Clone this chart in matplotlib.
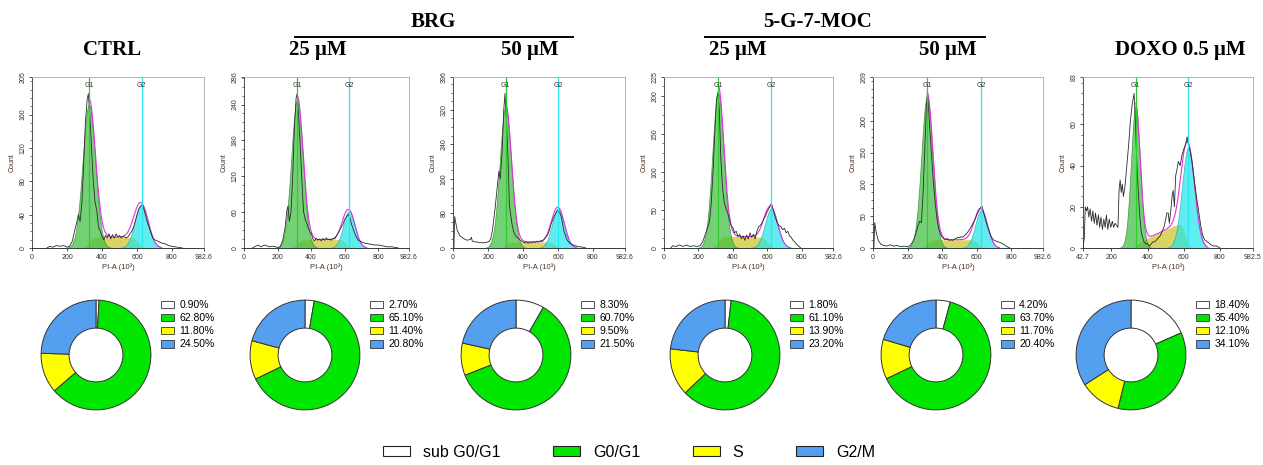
import math
import numpy as np
import matplotlib
matplotlib.use("Agg")
import matplotlib.pyplot as plt
from matplotlib.patches import Patch
from matplotlib.lines import Line2D
from matplotlib.ticker import AutoMinorLocator

plt.rcParams["font.family"] = ["Liberation Sans", "DejaVu Sans"]

W, H = 1263, 465

# ---- donut data (% of cells) ----
phases = ["sub G0/G1", "G0/G1", "S", "G2/M"]
phase_colors = ["#ffffff", "#00e600", "#ffff00", "#559ff0"]
sub_g1 = [0.90, 2.70, 8.30, 1.80, 4.20, 18.40]
g0_g1 = [62.80, 65.10, 60.70, 61.10, 63.70, 35.40]
s_phase = [11.80, 11.40, 9.50, 13.90, 11.70, 12.10]
g2_m = [24.50, 20.80, 21.50, 23.20, 20.40, 34.10]

# ---- histogram axes ----
x_min = [0, 0, 0, 0, 0, 42.7]
x_max = [982.6, 982.6, 982.6, 982.6, 982.6, 982.5]
y_max = [205, 286, 396, 225, 269, 83]
y_ticks = [
    [0, 40, 80, 120, 160, 205],
    [0, 60, 120, 180, 240, 286],
    [0, 80, 160, 240, 320, 396],
    [0, 50, 100, 150, 200, 225],
    [0, 50, 100, 150, 200, 269],
    [0, 20, 40, 60, 83],
]

# ---- fitted model components ----
g1_pos = [325, 316, 300, 314, 312, 333]
g1_height = [172, 247, 327, 205, 238, 69]
g1_width = [36, 35, 33, 33, 33, 25]
g2_pos = [626, 626, 601, 624, 626, 625]
g2_height = [52, 62, 92, 52, 60, 49]
g2_width = [38, 35, 35, 37, 35, 35]
s_start = [13, 14, 14, 16, 13, 2]
s_end = [13, 14, 14, 14, 13, 14]

# ---- raw histogram traces ----
ctrl_x = [85, 100, 120, 140, 160, 180, 200, 215, 230, 245, 255, 265, 275, 285, 295, 305, 315, 322, 330,
          340, 350, 360, 370, 380, 390, 400, 410, 420, 430, 440, 450, 460, 470, 480, 490, 500, 510, 520,
          530, 540, 550, 560, 570, 580, 590, 600, 610, 620, 630, 640, 650, 660, 670, 680, 690, 700, 720,
          740, 760, 780, 800, 830, 860]
ctrl_y = [0, 2, 1, 3, 2, 3, 1, 2, 8, 22, 30, 40, 32, 55, 100, 150, 178, 185, 160,
          120, 80, 55, 45, 25, 20, 14, 10, 15, 12, 17, 11, 16, 12, 17, 13, 15, 12, 14,
          13, 12, 14, 17, 20, 25, 32, 40, 47, 50, 52, 46, 38, 30, 24, 18, 12, 10, 8,
          6, 5, 3, 2, 1, 0]

brg25_x = [50, 70, 85, 100, 125, 150, 175, 200, 215, 230, 245, 255, 262, 270, 280, 290, 300, 310, 316,
           325, 335, 345, 355, 365, 375, 385, 395, 400, 410, 420, 430, 440, 450, 460, 470, 480, 490,
           500, 510, 520, 530, 540, 550, 560, 570, 580, 590, 600, 610, 620, 630, 640, 650, 660, 670,
           680, 690, 700, 720, 740, 760, 780, 800, 820, 850, 880, 920]
brg25_y = [0, 3, 5, 2, 5, 2, 3, 1, 2, 12, 35, 62, 70, 45, 60, 120, 200, 250, 258,
           220, 170, 110, 60, 48, 40, 32, 25, 25, 15, 12, 16, 13, 15, 12, 16, 13, 17,
           14, 15, 13, 16, 15, 20, 25, 30, 35, 40, 48, 52, 56, 52, 40, 32, 24, 18,
           13, 12, 10, 8, 7, 6, 5, 5, 4, 2, 2, 0]

brg50_x = [5, 10, 15, 25, 40, 60, 80, 100, 105, 110, 130, 150, 170, 190, 205, 215, 225, 240, 255, 262,
           270, 280, 290, 297, 305, 315, 322, 335, 345, 355, 365, 375, 385, 395, 410, 420, 430, 440,
           450, 460, 470, 480, 490, 500, 510, 520, 530, 540, 550, 560, 570, 580, 590, 600, 610, 620,
           633, 650, 660, 670, 680, 700, 720, 740, 760]
brg50_y = [0, 73, 60, 40, 28, 22, 18, 20, 25, 16, 14, 13, 12, 13, 15, 20, 40, 90, 150, 178,
           160, 220, 320, 358, 300, 200, 100, 60, 40, 30, 25, 22, 18, 15, 12, 14, 11, 14,
           12, 15, 13, 16, 14, 17, 15, 20, 25, 30, 40, 55, 65, 75, 83, 88, 82, 70,
           40, 20, 14, 10, 8, 5, 3, 2, 0]

moc25_x = [40, 50, 70, 90, 110, 130, 150, 170, 190, 210, 225, 240, 255, 265, 275, 285, 295, 305, 314,
           322, 330, 340, 350, 360, 370, 380, 390, 400, 410, 420, 430, 440, 450, 460, 470, 480, 490,
           500, 510, 520, 530, 540, 550, 560, 570, 580, 590, 600, 610, 620, 625, 635, 645, 655, 665,
           680, 690, 700, 710, 720, 730, 740, 750, 760, 770, 780, 795]
moc25_y = [0, 3, 2, 4, 2, 4, 2, 3, 2, 3, 8, 18, 28, 35, 60, 100, 150, 195, 205,
           180, 120, 80, 60, 52, 46, 38, 30, 27, 20, 22, 15, 18, 12, 16, 10, 17, 12,
           20, 14, 18, 12, 22, 28, 30, 33, 38, 42, 48, 52, 57, 59, 50, 42, 35, 30,
           28, 24, 26, 20, 22, 16, 14, 10, 8, 5, 3, 0]

moc50_x = [5, 10, 18, 30, 45, 60, 80, 100, 120, 140, 160, 180, 200, 215, 230, 245, 260, 270, 280, 290,
           300, 308, 314, 322, 330, 340, 350, 360, 370, 380, 390, 400, 410, 420, 430, 440, 450, 460,
           470, 480, 490, 500, 510, 520, 530, 540, 550, 560, 570, 580, 590, 600, 610, 620, 630, 640,
           650, 660, 670, 680, 690, 700, 720, 740, 760, 775, 790]
moc50_y = [0, 40, 25, 12, 6, 4, 3, 5, 3, 4, 2, 3, 2, 4, 10, 20, 35, 42, 40, 90,
           160, 220, 243, 215, 180, 140, 100, 70, 45, 30, 22, 17, 14, 13, 15, 12, 13, 12,
           14, 15, 17, 16, 18, 17, 20, 22, 26, 30, 35, 40, 45, 52, 58, 63, 66, 55,
           45, 35, 28, 20, 15, 12, 10, 8, 5, 2, 0]

doxo_x = [42.7, 50, 55, 62, 68, 75, 82, 90, 97, 105, 112, 120, 128, 135, 142, 150, 158, 165, 172, 180,
          188, 196, 205, 212, 220, 228, 236, 242, 248, 254, 260, 266, 275, 285, 295, 305, 315, 325,
          333, 340, 348, 356, 366, 380, 390, 400, 410, 420, 430, 440, 450, 460, 470, 480, 490, 500,
          506, 514, 520, 528, 535, 541, 548, 555, 562, 570, 580, 590, 600, 610, 618, 625, 635, 645,
          655, 665, 675, 685, 695, 705, 715, 730, 745, 760, 780, 800]
doxo_y = [0, 5, 20, 18, 20, 15, 19, 13, 18, 12, 17, 11, 16, 10, 15, 9, 14, 10, 16, 9,
          14, 10, 13, 10, 12, 11, 10, 28, 33, 27, 31, 25, 30, 40, 50, 62, 70, 75,
          60, 42, 28, 16, 7, 3, 2, 2, 1, 2, 3, 3, 4, 5, 6, 8, 10, 14,
          17, 17, 12, 18, 25, 28, 20, 35, 38, 42, 40, 45, 48, 50, 54, 50, 47, 42,
          35, 28, 22, 16, 10, 6, 4, 3, 2, 1, 1, 0]

trace_x = [ctrl_x, brg25_x, brg50_x, moc25_x, moc50_x, doxo_x]
trace_y = [ctrl_y, brg25_y, brg50_y, moc25_y, moc50_y, doxo_y]

# ---- layout in pixels ----
hist_left = [32, 244, 453, 664, 873, 1083]
hist_right = [204, 409, 625, 833, 1043, 1253]
hist_top, hist_bottom = 77, 248
donut_cx = [96, 305, 516, 725, 936, 1131]
donut_cy, donut_r = 355, 56

erf = np.vectorize(math.erf)


def gauss(x, mu, sd, h):
    return h * np.exp(-0.5 * ((x - mu) / sd) ** 2)


def px_axes(fig, left, top, w, h):
    return fig.add_axes([left / W, 1 - (top + h) / H, w / W, h / H])


fig = plt.figure(figsize=(W / 100, H / 100), dpi=100)

for i in range(6):
    ax = px_axes(fig, hist_left[i], hist_top, hist_right[i] - hist_left[i], hist_bottom - hist_top)
    x = np.linspace(x_min[i], x_max[i], 1200)
    g1 = gauss(x, g1_pos[i], g1_width[i], g1_height[i])
    g2 = gauss(x, g2_pos[i], g2_width[i], g2_height[i])
    frac = np.clip((x - g1_pos[i]) / (g2_pos[i] - g1_pos[i]), 0, 1)
    s_end_x = g2_pos[i] - 0.5 * g2_width[i]
    edge = 0.5 * (erf((x - g1_pos[i]) / (np.sqrt(2) * g1_width[i] * 0.6))
                  - erf((x - s_end_x) / (np.sqrt(2) * g2_width[i] * 0.5)))
    s = (s_start[i] + (s_end[i] - s_start[i]) * frac) * edge

    ax.fill_between(x, 0, s, color="#d2c83c", alpha=0.8, lw=0)
    ax.fill_between(x, 0, g1, facecolor="#3fbf3f", alpha=0.72, edgecolor="#1f7a1f", lw=0.5)
    ax.fill_between(x, 0, g2, facecolor="#22e6ea", alpha=0.72, edgecolor="#1a9aa8", lw=0.5)

    total = g1 + g2 + s
    m = (x > g1_pos[i]) & (x < g2_pos[i] + 3.0 * g2_width[i])
    ax.plot(x[m], total[m], color="#e62ee6", lw=0.8)
    ax.plot(trace_x[i], trace_y[i], color="#2a2a2a", lw=0.6)

    ax.axvline(g1_pos[i], color="#2ecc2e", lw=0.9)
    ax.axvline(g2_pos[i], color="#2ee6f0", lw=0.9)
    ax.text(g1_pos[i], y_max[i] * 0.97, "G1", ha="center", va="top", fontsize=5, color="#333")
    ax.text(g2_pos[i], y_max[i] * 0.97, "G2", ha="center", va="top", fontsize=5, color="#333")

    ax.set_xlim(x_min[i], x_max[i])
    ax.set_ylim(0, y_max[i])
    xt = [x_min[i], 200, 400, 600, 800, x_max[i]]
    ax.set_xticks(xt)
    ax.set_xticklabels([("%g" % v) for v in xt])
    ax.set_yticks(y_ticks[i])
    ax.set_yticklabels([str(v) for v in y_ticks[i]], rotation=90, va="center")
    ax.yaxis.set_minor_locator(AutoMinorLocator(4))
    ax.tick_params(labelsize=5, length=2.5, width=0.6, pad=1.5, colors="#333")
    ax.tick_params(which="minor", length=1.3, width=0.5, colors="#333")
    for side in ["top", "right"]:
        ax.spines[side].set_color("#aaaaaa")
        ax.spines[side].set_linewidth(0.6)
    for side in ["left", "bottom"]:
        ax.spines[side].set_color("#333333")
        ax.spines[side].set_linewidth(0.6)
    ax.set_ylabel("Count", fontsize=5, color="#4a3020", labelpad=3)
    ax.set_xlabel("PI-A (10³)", fontsize=5.5, color="#4a3020", labelpad=2)

    # donut
    dax = px_axes(fig, donut_cx[i] - donut_r, donut_cy - donut_r, 2 * donut_r, 2 * donut_r)
    vals = [sub_g1[i], g0_g1[i], s_phase[i], g2_m[i]]
    dax.pie(vals, colors=phase_colors, startangle=90, counterclock=False, radius=1,
            wedgeprops=dict(width=0.51, edgecolor="#333333", linewidth=0.7))
    dax.set_xlim(-1.02, 1.02)
    dax.set_ylim(-1.02, 1.02)
    dax.set_aspect("equal")
    handles = [Patch(facecolor=c, edgecolor="#333333", linewidth=0.6) for c in phase_colors]
    dax.legend(handles, ["%.2f%%" % v for v in vals], loc="upper left",
               bbox_to_anchor=((donut_cx[i] + 65) / W, 1 - 300 / H), bbox_transform=fig.transFigure,
               frameon=False, fontsize=7.5, handlelength=1.25, handleheight=0.75,
               labelspacing=0.3, handletextpad=0.5, borderpad=0, borderaxespad=0)

# headers
serif = dict(fontfamily="Liberation Serif", fontweight="bold", fontsize=15, ha="center", va="center")
headers = [("CTRL", 112, 50), ("BRG", 433, 22), ("25 μM", 318, 50), ("50 μM", 530, 50),
           ("5-G-7-MOC", 818, 22), ("25 μM", 738, 50), ("50 μM", 948, 50), ("DOXO 0.5 μM", 1180, 50)]
for txt, hx, hy in headers:
    fig.text(hx / W, 1 - hy / H, txt, **serif)
for x0, x1 in [(295, 573), (705, 985)]:
    fig.add_artist(Line2D([x0 / W, x1 / W], [1 - 37 / H, 1 - 37 / H], color="black", lw=1.4))

# bottom legend
leg_handles = [Patch(facecolor=c, edgecolor="#222222", linewidth=0.8) for c in phase_colors]
fig.legend(leg_handles, phases, loc="center", bbox_to_anchor=(0.498, 1 - 452 / H), ncol=4,
           frameon=False, fontsize=11.5, handlelength=1.7, handleheight=0.65,
           columnspacing=3.3, handletextpad=0.8)

fig.savefig("out.png", dpi=100)
